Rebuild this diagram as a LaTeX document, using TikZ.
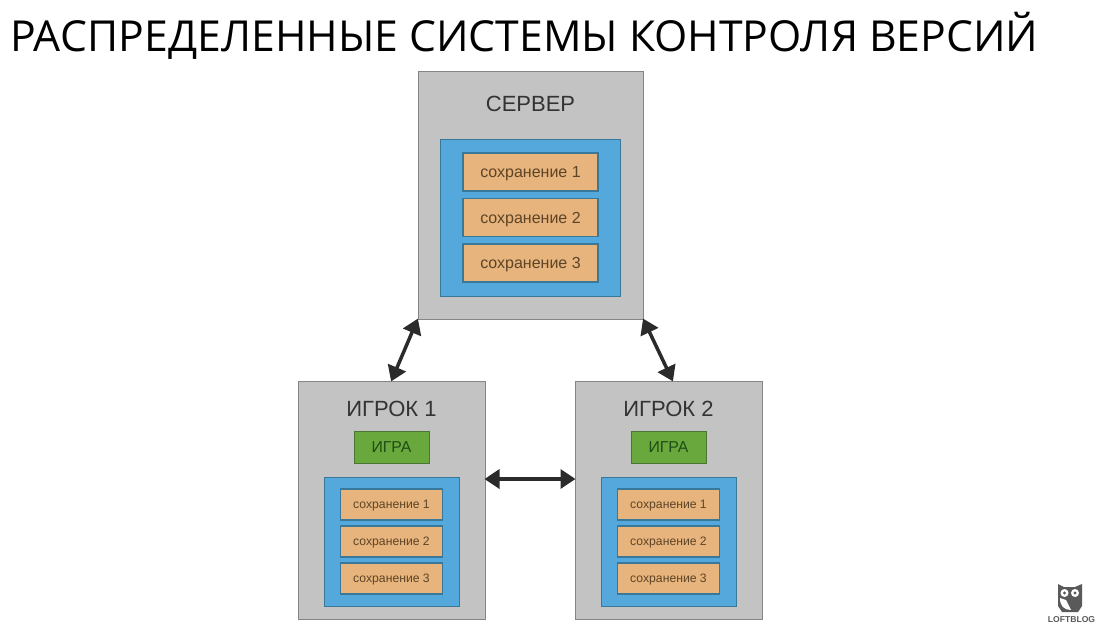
\documentclass[tikz,border=0pt]{standalone}
\usepackage{fontspec}
\setmainfont{Liberation Sans}
\newfontfamily\titlefont{Open Sans}
\usetikzlibrary{arrows.meta}

\definecolor{boxgray}{HTML}{C3C3C3}
\definecolor{boxline}{HTML}{858585}
\definecolor{storeblue}{HTML}{55A8DC}
\definecolor{storeline}{HTML}{3A789A}
\definecolor{saveorange}{HTML}{E6B47C}
\definecolor{savetext}{HTML}{5E4426}
\definecolor{gamegreen}{HTML}{69A83C}
\definecolor{gameline}{HTML}{4A7534}
\definecolor{gametext}{HTML}{1F4D14}
\definecolor{darkline}{HTML}{2B2B2B}
\definecolor{labeltext}{HTML}{333333}
\definecolor{owlgray}{HTML}{5A5A5A}

\begin{document}
\begin{tikzpicture}[
					x=1pt, y=-1pt,
					machine/.style={draw=boxline, line width=1pt, fill=boxgray, inner sep=0pt},
					store/.style={draw=storeline, line width=1pt, fill=storeblue, inner sep=0pt},
					bigsave/.style={draw=storeline, line width=1.2pt, fill=saveorange, inner sep=0pt, text=savetext, text depth=0pt, minimum width=135pt, minimum height=38pt, font=\fontsize{16}{18}\selectfont},
					smallsave/.style={draw=storeline, line width=1.2pt, fill=saveorange, inner sep=0pt, text=savetext, text depth=0pt, minimum width=102pt, minimum height=31pt, font=\fontsize{12.2}{14}\selectfont},
					game/.style={draw=gameline, line width=1pt, fill=gamegreen, inner sep=0pt, text=gametext, minimum width=75pt, minimum height=32pt, font=\fontsize{15.8}{18}\selectfont},
					heading/.style={text=labeltext, inner sep=0pt, font=\fontsize{22}{24}\selectfont},
					link/.style={{Triangle[length=15pt,width=19pt]}-{Triangle[length=15pt,width=19pt]}, line width=3.5pt, draw=darkline, shorten >=-1pt, shorten <=-1pt}
				]
				\useasboundingbox (0,0) rectangle (1102,643);

				% Parámetros de geometría
				\def\pa{391.5}   % centro del jugador 1
				\def\pb{668.5}   % centro del jugador 2
				\def\sx{530.5}   % centro del servidor

				% --- Titulo ---
				\node[inner sep=0pt, anchor=base west, font=\titlefont\fontsize{42.7}{48}\selectfont] (title) at (10,51) {РАСПРЕДЕЛЕННЫЕ СИСТЕМЫ КОНТРОЛЯ ВЕРСИЙ};

				% --- Servidor ---
				\node[machine, minimum width=225pt, minimum height=248pt] (server) at (\sx,195) {};
				\node[heading] (serverlabel) at (\sx,103.5) {СЕРВЕР};
				\node[store, minimum width=180pt, minimum height=157pt] (serverstore) at (\sx,217.5) {};
				\node[bigsave] (serversavea) at (\sx,172) {сохранение 1};
				\node[bigsave] (serversaveb) at (\sx,217.5) {сохранение 2};
				\node[bigsave] (serversavec) at (\sx,263) {сохранение 3};

				% --- Jugador 1 ---
				\node[machine, minimum width=187pt, minimum height=238pt] (playera) at (\pa,500) {};
				\node[heading] (playeralabel) at (\pa,409) {ИГРОК 1};
				\node[game] (gamea) at (\pa,447) {ИГРА};
				\node[store, minimum width=135pt, minimum height=129pt] (storea) at (\pa,541.5) {};
				\node[smallsave] (saveaa) at (\pa,504.5) {сохранение 1};
				\node[smallsave] (saveab) at (\pa,541.5) {сохранение 2};
				\node[smallsave] (saveac) at (\pa,578.5) {сохранение 3};

				% --- Jugador 2 ---
				\node[machine, minimum width=187pt, minimum height=238pt] (playerb) at (\pb,500) {};
				\node[heading] (playerblabel) at (\pb,409) {ИГРОК 2};
				\node[game] (gameb) at (\pb,447) {ИГРА};
				\node[store, minimum width=135pt, minimum height=129pt] (storeb) at (\pb,541.5) {};
				\node[smallsave] (saveba) at (\pb,504.5) {сохранение 1};
				\node[smallsave] (savebb) at (\pb,541.5) {сохранение 2};
				\node[smallsave] (savebc) at (\pb,578.5) {сохранение 3};

				% --- Conexiones ---
				\draw[link] (server.south west) -- (playera.north);
				\draw[link] (server.south east) -- ([xshift=4pt]playerb.north);
				\draw[link] ([yshift=21pt]playera.east) -- ([yshift=21pt]playerb.west);

				% --- Logo ---
				\fill[owlgray] (1058,584) -- (1064,587) -- (1075,587) -- (1082,584) -- (1082,606) -- (1078,612) -- (1062,612) -- (1058,606) -- cycle;
				\fill[white] (1060,598) .. controls (1060,606) and (1064,610) .. (1071,610) -- (1066,600) -- cycle;
				\fill[white] (1064.5,593) circle (4pt) (1075,593) circle (4pt);
				\fill[owlgray] (1064.5,593) circle (1.7pt) (1075,593) circle (1.7pt);
				\node[text=owlgray, inner sep=0pt, font=\bfseries\fontsize{8.6}{9}\selectfont] (logo) at (1071.5,620) {LOFTBLOG};
			\end{tikzpicture}
\end{document}
